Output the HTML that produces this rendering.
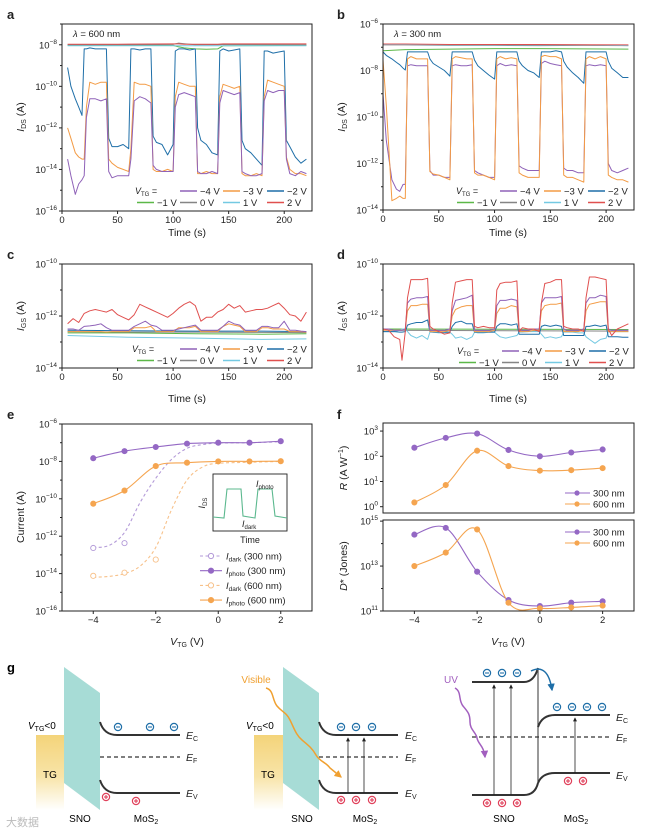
<!DOCTYPE html>
<html><head><meta charset="utf-8"><style>
html,body{margin:0;padding:0;background:#fff;}
svg{display:block;font-family:"Liberation Sans","Noto Sans CJK SC",sans-serif;}
</style></head><body>
<svg id="fig" xmlns="http://www.w3.org/2000/svg" width="664" height="833" viewBox="0 0 664 833">
<defs>
<linearGradient id="tgGrad" x1="0" y1="0" x2="0" y2="1"><stop offset="0" stop-color="#f4d47a"/><stop offset="0.55" stop-color="#f8e4a8"/><stop offset="1" stop-color="#ffffff"/></linearGradient>
<marker id="arrK" viewBox="0 0 6 6" refX="5" refY="3" markerWidth="5" markerHeight="5" orient="auto"><path d="M0,0 L6,3 L0,6 z" fill="#222"/></marker>
<marker id="arrO" viewBox="0 0 6 6" refX="5" refY="3" markerWidth="5" markerHeight="5" orient="auto"><path d="M0,0 L6,3 L0,6 z" fill="#f0a030"/></marker>
<marker id="arrP" viewBox="0 0 6 6" refX="5" refY="3" markerWidth="5" markerHeight="5" orient="auto"><path d="M0,0 L6,3 L0,6 z" fill="#a25fbf"/></marker>
<marker id="arrB" viewBox="0 0 6 6" refX="5" refY="3" markerWidth="5" markerHeight="5" orient="auto"><path d="M0,0 L6,3 L0,6 z" fill="#1f6fa8"/></marker>
</defs>
<g id="charts"></g>
<g id="schem">
  <text x="7" y="672" font-size="13" font-weight="bold">g</text>
  <!-- left diagram -->
  <rect x="36" y="735" width="28" height="75" fill="url(#tgGrad)"/>
  <text x="50" y="778" font-size="10" text-anchor="middle">TG</text>
  <polygon points="64,667 100,693 100,810 64,783" fill="#a7dcd6"/>
  <text x="28" y="729" font-size="10"><tspan font-style="italic">V</tspan><tspan font-size="7" dy="2">TG</tspan><tspan dy="-2">&lt;0</tspan></text>
  <path d="M100,722 Q104,735 117,735 L180,735" fill="none" stroke="#333" stroke-width="2"/>
  <line x1="100" y1="757" x2="180" y2="757" stroke="#333" stroke-width="1.2" stroke-dasharray="4,3"/>
  <path d="M100,780 Q104,793 117,793 L180,793" fill="none" stroke="#333" stroke-width="2"/>
  <text x="80" y="822" font-size="10" text-anchor="middle">SNO</text>
  <text x="146" y="822" font-size="10" text-anchor="middle">MoS<tspan font-size="7" dy="2">2</tspan></text>
  <!-- middle diagram -->
  <rect x="254" y="735" width="29" height="75" fill="url(#tgGrad)"/>
  <text x="268" y="778" font-size="10" text-anchor="middle">TG</text>
  <polygon points="283,667 319,693 319,810 283,783" fill="#a7dcd6"/>
  <text x="246" y="729" font-size="10"><tspan font-style="italic">V</tspan><tspan font-size="7" dy="2">TG</tspan><tspan dy="-2">&lt;0</tspan></text>
  <path d="M319,722 Q323,735 336,735 L398,735" fill="none" stroke="#333" stroke-width="2"/>
  <line x1="319" y1="757" x2="398" y2="757" stroke="#333" stroke-width="1.2" stroke-dasharray="4,3"/>
  <path d="M319,780 Q323,793 336,793 L398,793" fill="none" stroke="#333" stroke-width="2"/>
  <line x1="348" y1="793" x2="348" y2="738" stroke="#222" stroke-width="0.8" marker-end="url(#arrK)"/>
  <line x1="364" y1="793" x2="364" y2="738" stroke="#222" stroke-width="0.8" marker-end="url(#arrK)"/>
  <text x="256" y="683" font-size="10" fill="#f0a030" text-anchor="middle">Visible</text>
  <path d="M266,688 C274,690 272,700 277,706 S286,712 290,720 S296,735 302,740 S312,748 316,755 S326,762 330,768 L341,777" fill="none" stroke="#f0a030" stroke-width="1.5" marker-end="url(#arrO)"/>
  <text x="302" y="822" font-size="10" text-anchor="middle">SNO</text>
  <text x="365" y="822" font-size="10" text-anchor="middle">MoS<tspan font-size="7" dy="2">2</tspan></text>
  <!-- right diagram -->
  <path d="M472,682 L524,682 Q534,682 538,668" fill="none" stroke="#333" stroke-width="2"/>
  <path d="M472,795 L524,795 Q535,795 538,783" fill="none" stroke="#333" stroke-width="2"/>
  <line x1="538" y1="668" x2="538" y2="783" stroke="#555" stroke-width="1.2"/>
  <path d="M538,727 Q542,715 555,715 L610,715" fill="none" stroke="#333" stroke-width="2"/>
  <path d="M538,783 Q542,773 555,773 L610,773" fill="none" stroke="#333" stroke-width="2"/>
  <line x1="472" y1="737" x2="610" y2="737" stroke="#333" stroke-width="1.2" stroke-dasharray="4,3"/>
  <line x1="494" y1="795" x2="494" y2="685" stroke="#222" stroke-width="0.8" marker-end="url(#arrK)"/>
  <line x1="511" y1="795" x2="511" y2="685" stroke="#222" stroke-width="0.8" marker-end="url(#arrK)"/>
  <line x1="575" y1="773" x2="575" y2="718" stroke="#222" stroke-width="0.8" marker-end="url(#arrK)"/>
  <path d="M531,671 Q548,663 552,690" fill="none" stroke="#1f6fa8" stroke-width="1.5" marker-end="url(#arrB)"/>
  <text x="451" y="683" font-size="10" fill="#a25fbf" text-anchor="middle">UV</text>
  <path d="M455,688 C462,692 458,700 463,706 S470,714 470,722 S476,732 477,738 S484,746 485,757" fill="none" stroke="#a25fbf" stroke-width="1.5" marker-end="url(#arrP)"/>
  <text x="504" y="822" font-size="10" text-anchor="middle">SNO</text>
  <text x="576" y="822" font-size="10" text-anchor="middle">MoS<tspan font-size="7" dy="2">2</tspan></text>
  <text x="6" y="826" font-size="11" fill="#bbb">大数据</text>
</g>
</svg>
<script>
// ===== data: panel a (lambda=600nm), log10(I_DS)
const tA = [5,8,12,15,18,20,22,25,30,35,40,42,45,50,55,60,62,65,70,75,80,82,85,90,95,100,102,105,110,115,120,122,125,130,135,140,142,145,150,155,160,162,165,170,175,180,182,185,190,195,200,202,205,210,215,220];
const aM2 = [-9.1,-10,-10.6,-11,-11.4,-8.2,-8.2,-8.15,-8.2,-8.2,-8.2,-12.5,-12.9,-12.9,-12.8,-13.0,-8.2,-8.2,-8.25,-8.2,-8.2,-12.4,-12.7,-12.8,-13.3,-12.8,-8.3,-8.2,-8.2,-8.25,-8.2,-12.0,-12.6,-12.8,-13.2,-13.3,-8.3,-8.2,-8.3,-8.25,-8.2,-12.6,-13.0,-13.2,-13.5,-13.8,-8.3,-8.3,-8.4,-8.35,-8.3,-12.6,-12.9,-13.4,-13.7,-13.5];
const aM3 = [-12,-12.5,-13.2,-13.4,-13.5,-13.5,-11,-9.8,-9.9,-9.8,-9.8,-13.5,-13.7,-13.9,-14,-14.1,-13,-9.8,-9.9,-9.9,-10,-14,-14.1,-14.1,-14,-14.1,-10.5,-9.8,-9.9,-10,-10,-14.2,-14.2,-14.1,-14.2,-14.2,-10.5,-9.9,-10,-10.1,-10,-14.2,-14.3,-14.3,-14.2,-14.3,-10.5,-9.7,-9.8,-9.9,-10,-13.4,-14,-14.2,-14.2,-14.3];
const aM4 = [-13.5,-14.3,-15.2,-14.7,-14.5,-14.3,-11.5,-10.6,-10.6,-10.7,-10.6,-14.1,-14.4,-14.3,-14.3,-14.3,-13.5,-10.7,-10.5,-10.6,-10.8,-13.8,-14,-14.1,-14.1,-14.1,-11,-10.4,-10.3,-10.4,-10.5,-14.1,-14.2,-14.2,-14.1,-14.2,-10.8,-10.2,-10.3,-10.4,-10.3,-14.1,-14.2,-14.3,-14.3,-14.2,-10.7,-10.2,-10.3,-10.2,-10.2,-13.5,-14.2,-14.3,-14.1,-14.2];
const tAf = [5,50,100,105,110,120,130,140,145,220];
const aM1 = [-8.02,-8.03,-8.03,-8.1,-8.15,-8.2,-8.22,-8.2,-8.05,-8.03];
const a0 = [-8,-8,-7.98,-7.92,-7.95,-8,-8,-8,-7.98,-8];
const aP1 = [-8.05,-8.05,-8.05,-8.05,-8.05,-8.05,-8.05,-8.05,-8.05,-8.05];
const aP2 = [-7.97,-7.97,-7.96,-7.96,-7.97,-7.97,-7.97,-7.97,-7.96,-7.96];
// ===== panel b (lambda=300nm)
const tB = [0,3,8,12,15,18,20,22,25,30,35,40,42,45,50,55,60,62,65,70,75,80,82,85,90,95,100,102,105,110,115,120,122,125,130,135,140,142,145,150,155,160,162,165,170,175,180,182,185,190,195,200,202,205,210,215,220];
const bM2 = [-7.2,-7.35,-7.5,-7.65,-7.75,-7.9,-7.98,-7.2,-7.2,-7.2,-7.2,-7.2,-7.5,-7.7,-7.85,-8.0,-8.24,-7.2,-7.2,-7.2,-7.2,-7.2,-7.55,-7.8,-8.0,-8.2,-8.37,-7.2,-7.2,-7.2,-7.2,-7.2,-7.6,-7.8,-8.0,-8.1,-8.3,-7.2,-7.2,-7.2,-7.15,-7.2,-7.6,-7.85,-8.1,-8.3,-8.55,-7.2,-7.2,-7.2,-7.2,-7.2,-7.6,-7.9,-8.1,-8.3,-8.3];
const bM3 = [-7.55,-9.5,-13.6,-13.5,-13.4,-13.5,-13.5,-7.5,-7.4,-7.5,-7.5,-7.5,-12.35,-12.45,-12.5,-12.6,-12.7,-7.5,-7.4,-7.45,-7.5,-7.5,-12.4,-12.5,-12.5,-12.6,-12.7,-7.5,-7.4,-7.5,-7.45,-7.5,-12.4,-12.5,-12.6,-12.6,-12.6,-7.4,-7.35,-7.4,-7.4,-7.5,-12.5,-12.6,-12.6,-12.7,-12.8,-7.5,-7.4,-7.5,-7.4,-7.5,-12.5,-12.6,-12.7,-12.7,-12.8];
const bM4 = [-9,-11,-12.7,-13.1,-13.2,-12.9,-12.9,-7.8,-7.75,-7.8,-7.8,-7.8,-12.3,-12.5,-12.5,-12.6,-12.6,-7.8,-7.75,-7.8,-7.8,-7.75,-12.3,-12.4,-12.5,-12.6,-12.6,-7.8,-7.7,-7.8,-7.75,-7.8,-12.1,-12.2,-12.3,-12.3,-12.3,-7.7,-7.6,-7.7,-7.75,-7.8,-12.2,-12.3,-12.3,-12.4,-12.4,-7.8,-7.75,-7.8,-7.75,-7.8,-12.0,-12.3,-12.4,-12.3,-12.2];
const tBf = [0,20,60,100,140,180,220];
const bM1 = [-7.15,-7.1,-7.08,-7.06,-7.06,-7.07,-7.08];
const b0 = [-6.9,-6.9,-6.92,-6.92,-6.93,-6.92,-6.93];
const bP1 = [-6.88,-6.88,-6.9,-6.9,-6.9,-6.9,-6.93];
const bP2 = [-6.86,-6.86,-6.88,-6.88,-6.88,-6.89,-6.9];
// ===== panel c (I_GS, 600nm)
const tC = [5,10,15,20,25,30,35,40,45,50,55,60,65,70,75,80,85,90,95,100,105,110,115,120,125,130,135,140,145,150,155,160,165,170,175,180,185,190,195,200,205,210,215,220];
const cP2 = [-12.3,-12.1,-12.25,-11.9,-11.8,-11.75,-11.8,-11.85,-11.75,-11.95,-12.05,-12.15,-11.95,-11.55,-11.65,-11.75,-11.85,-11.95,-12.05,-11.9,-11.7,-11.55,-11.45,-11.6,-12.2,-12.05,-12.05,-11.85,-11.75,-11.55,-11.7,-11.6,-11.85,-11.8,-11.75,-11.75,-11.7,-11.6,-11.5,-11.7,-11.95,-12.0,-12.2,-11.85];
const cM4 = [-12.5,-12.5,-12.55,-12.4,-12.38,-12.35,-12.3,-12.45,-12.55,-12.55,-12.55,-12.55,-12.4,-12.3,-12.2,-12.35,-12.4,-12.55,-12.55,-12.55,-12.5,-12.45,-12.4,-12.35,-12.55,-12.55,-12.55,-12.55,-12.4,-12.2,-12.3,-12.35,-12.55,-12.55,-12.55,-12.4,-12.4,-12.45,-12.45,-12.2,-12.55,-12.55,-12.58,-12.6];
const cM3 = [-12.6,-12.6,-12.6,-12.6,-12.6,-12.6,-12.6,-12.62,-12.6,-12.6,-12.6,-12.6,-12.45,-12.45,-12.45,-12.4,-12.6,-12.6,-12.6,-12.6,-12.45,-12.45,-12.45,-12.4,-12.6,-12.6,-12.6,-12.6,-12.4,-12.3,-12.35,-12.4,-12.6,-12.6,-12.6,-12.45,-12.45,-12.5,-12.5,-12.5,-12.6,-12.6,-12.6,-12.62];
const tCf = [5,60,120,180,220];
const cM2 = [-12.55,-12.57,-12.58,-12.58,-12.6];
const cM1 = [-12.65,-12.65,-12.68,-12.7,-12.68];
const c0 = [-12.6,-12.62,-12.62,-12.63,-12.64];
const cP1 = [-12.75,-12.82,-12.85,-12.9,-12.88];
// ===== panel d (I_GS, 300nm)
const tD = [0,5,10,15,17,20,22,25,30,35,40,42,45,50,55,60,62,65,70,75,80,82,85,90,95,100,102,105,110,115,120,122,125,130,135,140,142,145,150,155,160,162,165,170,175,180,182,185,190,195,200,202,205,210,215,220];
const dP2 = [-12.5,-12.55,-12.8,-12.9,-13.7,-12.6,-11.3,-10.6,-10.6,-10.6,-10.55,-12.4,-12.5,-12.6,-12.7,-12.65,-11.5,-10.7,-10.65,-10.6,-10.6,-12.4,-12.45,-12.4,-12.45,-12.45,-11.0,-10.75,-10.7,-10.7,-10.65,-12.6,-12.45,-12.5,-12.5,-12.6,-11.5,-10.75,-10.7,-10.6,-10.6,-12.4,-12.45,-12.5,-12.5,-12.6,-11.3,-10.5,-10.5,-10.55,-10.6,-12.5,-12.75,-12.5,-12.4,-12.3];
const dM4 = [-12.5,-12.5,-12.55,-12.55,-12.55,-12.5,-11.5,-11.35,-11.3,-11.3,-11.25,-12.55,-12.55,-12.55,-12.55,-12.5,-11.8,-11.4,-11.35,-11.3,-11.2,-12.55,-12.55,-12.55,-12.55,-12.5,-11.6,-11.4,-11.4,-11.35,-11.4,-12.5,-12.55,-12.55,-12.5,-12.5,-11.5,-11.3,-11.3,-11.3,-11.25,-12.5,-12.55,-12.55,-12.55,-12.5,-11.5,-11.3,-11.3,-11.2,-11.25,-12.5,-12.55,-12.55,-12.55,-12.55];
const dM3 = [-12.55,-12.55,-12.55,-12.55,-12.55,-12.5,-11.8,-11.6,-11.6,-11.55,-11.55,-12.6,-12.6,-12.6,-12.6,-12.55,-12.0,-11.75,-11.65,-11.6,-11.6,-12.6,-12.6,-12.6,-12.6,-12.55,-11.9,-11.7,-11.7,-11.6,-11.65,-12.6,-12.6,-12.6,-12.55,-12.55,-11.8,-11.6,-11.55,-11.55,-11.5,-12.6,-12.6,-12.6,-12.6,-12.55,-11.8,-11.55,-11.5,-11.45,-11.45,-12.6,-12.6,-12.6,-12.6,-12.6];
const dM2 = [-12.6,-12.6,-12.6,-12.62,-12.62,-12.6,-12.35,-12.3,-12.25,-12.25,-12.15,-12.6,-12.62,-12.62,-12.62,-12.62,-12.4,-12.25,-12.2,-12.3,-12.3,-12.62,-12.62,-12.62,-12.62,-12.62,-12.4,-12.3,-12.3,-12.35,-12.3,-12.7,-12.7,-12.7,-12.7,-12.7,-12.4,-12.35,-12.4,-12.35,-12.4,-12.75,-12.75,-12.75,-12.75,-12.75,-12.4,-12.4,-12.35,-12.4,-12.35,-12.8,-12.8,-12.8,-12.82,-12.82];
const dP1 = [-12.6,-12.6,-12.6,-12.55,-12.5,-12.5,-12.6,-12.75,-12.85,-12.75,-12.9,-12.62,-12.62,-12.65,-12.65,-12.62,-12.7,-12.85,-12.8,-12.9,-12.8,-12.62,-12.65,-12.65,-12.62,-12.62,-12.7,-12.8,-12.85,-12.8,-12.75,-12.62,-12.62,-12.6,-12.6,-12.6,-12.7,-12.85,-12.8,-12.85,-12.8,-12.62,-12.62,-12.62,-12.65,-12.65,-12.8,-12.9,-13.05,-12.9,-12.85,-12.6,-12.6,-12.6,-12.6,-12.6];
const tDf = [5,220];
const dM1 = [-12.5,-12.52];
const d0 = [-12.55,-12.58];
// ===== panel e (current vs V_TG)
const vPts = [-4,-3,-2,-1,0,1,2];
const ePhoto300 = [-7.83,-7.45,-7.23,-7.05,-7.0,-7.0,-6.92];
const ePhoto600 = [-10.26,-9.56,-8.25,-8.07,-8.0,-8.0,-7.99];
const vDark = [-4,-3,-2];
const eDark300 = [-12.63,-12.37];
const eDark600 = [-14.12,-13.95,-13.25];
const vFit = [-4,-3.5,-3,-2.5,-2,-1.5,-1,-0.5,0,1,2];
const eFit300 = [-12.6,-12.5,-11.8,-10.2,-8.9,-7.9,-7.3,-7.1,-7.02,-7.0,-6.95];
const eFit600 = [-14.2,-14.15,-14.0,-13.6,-12.6,-10.6,-9.0,-8.3,-8.1,-8.05,-8.0];
// ===== panel f
const fR300 = [2.34,2.73,2.9,2.25,2.0,2.15,2.27];
const fR600 = [0.17,0.86,2.22,1.61,1.43,1.45,1.53];
const fD300 = [14.4,14.7,12.75,11.49,11.22,11.37,11.43];
const fD600 = [13.0,13.6,14.63,11.37,11.12,11.16,11.24];
// tick labels
const timeTicks = [0,50,100,150,200];
const vTicks = [-4,-2,0,2];
const legendLabels = ['−4 V','−3 V','−2 V','−1 V','0 V','1 V','2 V'];

const C = {m4:'#8f62b8', m3:'#f39b45', m2:'#1f6fa8', m1:'#5cb848', z:'#858585', p1:'#74c9e2', p2:'#e0504f'};
const P300 = '#9468c4', P600 = '#f5a550';
const NS = 'http://www.w3.org/2000/svg';
const root = document.getElementById('charts');

function el(tag, attrs, parent) {
  const e = document.createElementNS(NS, tag);
  for (const k in attrs) e.setAttribute(k, attrs[k]);
  (parent || root).appendChild(e);
  return e;
}
function tx(x, y, html, opts, parent) {
  const e = el('text', Object.assign({x: x, y: y, 'font-size': 10, fill: '#222'}, opts || {}), parent);
  e.innerHTML = html;
  return e;
}
function panel(left, right, top, bottom, xmin, xmax, ymin, ymax) {
  return {left, right, top, bottom,
    X: v => left + (v - xmin) / (xmax - xmin) * (right - left),
    Y: v => bottom - (v - ymin) / (ymax - ymin) * (bottom - top)};
}
function frame(p, name) {
  const r = el('rect', {x: p.left, y: p.top, width: p.right - p.left, height: p.bottom - p.top, fill: 'none', stroke: '#222', 'stroke-width': 1});
  
  
}
function yTicksLog(p, lo, hi, labeled, name, step) {
  const g = el('g', {});
  
  
  for (let d = lo; d <= hi; d++) {
    const y = p.Y(d);
    const major = labeled.indexOf(d) >= 0;
    el('line', {x1: p.left - (major ? 3 : 2), x2: p.left, y1: y, y2: y, stroke: '#222', 'stroke-width': 1}, g);
    if (step) { for (let k = 2; k < 10; k++) { const yy = p.Y(d + Math.log10(k)); if (d < hi && yy > p.top) el('line', {x1: p.left, x2: p.left + 1.5, y1: yy, y2: yy, stroke: '#444', 'stroke-width': 0.5}, g); } }
    if (major) {
      const lab = String(d).replace('-', '−');
      const t = tx(p.left - 5, y + 3.5, '10<tspan font-size="6.5" dy="-4.5">' + lab + '</tspan>', {'text-anchor': 'end', 'font-size': 9.5}, g);
      
      
    }
  }
}
function xTicks(p, vals, fmt, name, yoff) {
  const g = el('g', {});
  
  
  vals.forEach(v => {
    const x = p.X(v);
    el('line', {x1: x, x2: x, y1: p.bottom, y2: p.bottom + 3, stroke: '#222', 'stroke-width': 1}, g);
    const t = tx(x, p.bottom + (yoff || 12), fmt(v), {'text-anchor': 'middle', 'font-size': 9.5}, g);
    
    
  });
}
function series(p, ts, vs, color, name, extra) {
  const d = ts.map((t, i) => (i ? 'L' : 'M') + p.X(t).toFixed(1) + ',' + p.Y(vs[i]).toFixed(1)).join('');
  const e = el('path', Object.assign({d: d, fill: 'none', stroke: color, 'stroke-width': 1, 'stroke-linejoin': 'round'}, extra || {}));
  
  
  return e;
}
function smooth(p, xs, vs, color, name, extra) {
  const pts = xs.map((x, i) => [p.X(x), p.Y(vs[i])]);
  let d = 'M' + pts[0][0].toFixed(1) + ',' + pts[0][1].toFixed(1);
  for (let i = 0; i < pts.length - 1; i++) {
    const p0 = pts[Math.max(0, i - 1)], p1 = pts[i], p2 = pts[i + 1], p3 = pts[Math.min(pts.length - 1, i + 2)];
    const c1 = [p1[0] + (p2[0] - p0[0]) / 6, p1[1] + (p2[1] - p0[1]) / 6];
    const c2 = [p2[0] - (p3[0] - p1[0]) / 6, p2[1] - (p3[1] - p1[1]) / 6];
    d += 'C' + c1.map(v => v.toFixed(1)) + ' ' + c2.map(v => v.toFixed(1)) + ' ' + p2[0].toFixed(1) + ',' + p2[1].toFixed(1);
  }
  const e = el('path', Object.assign({d: d, fill: 'none', stroke: color, 'stroke-width': 1.1}, extra || {}));
  
  
}
function dots(p, xs, vs, color, name, open) {
  xs.forEach((x, i) => {
    if (vs[i] === undefined) return;
    const c = el('circle', {cx: p.X(x), cy: p.Y(vs[i]), r: 2.6, fill: open ? '#fff' : color, stroke: color, 'stroke-width': 0.9});
    
    
  });
}
function vtgLegend(x0, y0, xs1, xs2, dy, name) {
  const g = el('g', {});
  
  
  tx(x0, y0 + 3, '<tspan font-style="italic">V</tspan><tspan font-size="6" dy="2">TG</tspan><tspan dy="-2"> =</tspan>', {'font-size': 9}, g);
  const cols = [C.m4, C.m3, C.m2, C.m1, C.z, C.p1, C.p2];
  for (let i = 0; i < 7; i++) {
    const row = i < 3 ? 0 : 1;
    const x = row === 0 ? xs1[i] : xs2[i - 3];
    const y = y0 + row * dy;
    const ln = el('line', {x1: x, x2: x + 17, y1: y, y2: y, stroke: cols[i], 'stroke-width': 1.5}, g);
    
    
    const t = tx(x + 20, y + 3.5, legendLabels[i], {'font-size': 9.5}, g);
    
    
  }
}
function label(x, y, s, name) {
  const t = tx(x, y, s, {'font-size': 13, 'font-weight': 'bold'});
  
  
}
function ytitle(x, y, html, name) {
  const t = tx(x, y, html, {'text-anchor': 'middle', 'font-size': 10.5, transform: 'rotate(-90 ' + x + ' ' + y + ')'});
  
  
}
function xtitle(x, y, html, name) {
  const t = tx(x, y, html, {'text-anchor': 'middle', 'font-size': 10.5});
  
  
}
const IDS = '<tspan font-style="italic">I</tspan><tspan font-size="7" dy="2">DS</tspan><tspan dy="-2"> (A)</tspan>';
const IGS = '<tspan font-style="italic">I</tspan><tspan font-size="7" dy="2">GS</tspan><tspan dy="-2"> (A)</tspan>';
const VTG = '<tspan font-style="italic">V</tspan><tspan font-size="7" dy="2">TG</tspan><tspan dy="-2"> (V)</tspan>';
const fmtN = v => String(v).replace('-', '−');

// ---- panel a
const pa = panel(62, 312, 24, 211, 0, 225, -16, -7);
label(7, 19, 'a', 'panel-label-a');
[[tAf, aM1, C.m1], [tAf, a0, C.z], [tAf, aP1, C.p1], [tAf, aP2, C.p2], [tA, aM2, C.m2], [tA, aM3, C.m3], [tA, aM4, C.m4]].forEach((s, i) => series(pa, s[0], s[1], s[2], 'a-series-' + i));
frame(pa, 'a');
yTicksLog(pa, -16, -7, [-8, -10, -12, -14, -16], 'a');
xTicks(pa, timeTicks, fmtN, 'a');
ytitle(24, 117, IDS, 'a-y-axis-title');
xtitle(187, 236, 'Time (s)', 'a-x-axis-title');
tx(73, 37, '<tspan font-style="italic">λ</tspan> = 600 nm', {'font-size': 9.5});
vtgLegend(135, 191, [180, 223, 267], [137, 180, 223, 267], 11.5, 'a-legend');

// ---- panel b
const pb = panel(383, 634, 24, 210, 0, 225, -14, -6);
label(337, 19, 'b', 'panel-label-b');
[[tBf, bM1, C.m1], [tBf, b0, C.z], [tBf, bP1, C.p1], [tBf, bP2, C.p2], [tB, bM2, C.m2], [tB, bM4, C.m4], [tB, bM3, C.m3]].forEach((s, i) => series(pb, s[0], s[1], s[2], 'b-series-' + i));
frame(pb, 'b');
yTicksLog(pb, -14, -6, [-6, -8, -10, -12, -14], 'b');
xTicks(pb, timeTicks, fmtN, 'b');
ytitle(345, 117, IDS, 'b-y-axis-title');
xtitle(508, 236, 'Time (s)', 'b-x-axis-title');
tx(394, 37, '<tspan font-style="italic">λ</tspan> = 300 nm', {'font-size': 9.5});
vtgLegend(456, 191, [500, 544, 588], [457, 500, 544, 588], 11.5, 'b-legend');

// ---- panel c
const pc = panel(62, 312, 264, 368, 0, 225, -14, -10);
label(7, 259, 'c', 'panel-label-c');
[[tCf, cP1, C.p1], [tCf, cM1, C.m1], [tCf, c0, C.z], [tCf, cM2, C.m2], [tC, cM3, C.m3], [tC, cM4, C.m4], [tC, cP2, C.p2]].forEach((s, i) => series(pc, s[0], s[1], s[2], 'c-series-' + i));
frame(pc, 'c');
yTicksLog(pc, -14, -10, [-10, -12, -14], 'c');
xTicks(pc, timeTicks, fmtN, 'c');
ytitle(24, 316, IGS, 'c-y-axis-title');
xtitle(187, 402, 'Time (s)', 'c-x-axis-title');
vtgLegend(132, 349, [180, 223, 267], [137, 180, 223, 267], 11.5, 'c-legend');

// ---- panel d
const pd = panel(383, 634, 264, 368, 0, 225, -14, -10);
label(337, 259, 'd', 'panel-label-d');
[[tDf, dM1, C.m1], [tDf, d0, C.z], [tD, dP1, C.p1], [tD, dM2, C.m2], [tD, dM3, C.m3], [tD, dM4, C.m4], [tD, dP2, C.p2]].forEach((s, i) => series(pd, s[0], s[1], s[2], 'd-series-' + i));
frame(pd, 'd');
yTicksLog(pd, -14, -10, [-10, -12, -14], 'd');
xTicks(pd, timeTicks, fmtN, 'd');
ytitle(345, 316, IGS, 'd-y-axis-title');
xtitle(508, 402, 'Time (s)', 'd-x-axis-title');
vtgLegend(457, 351, [502, 545, 589], [459, 502, 545, 589], 11.5, 'd-legend');

// ---- panel e
const pe = panel(62, 312, 424, 611, -5, 3, -16, -6);
label(7, 419, 'e', 'panel-label-e');
smooth(pe, vFit, eFit300, '#b39ad8', 'e-dark-300-fit', {'stroke-dasharray': '3,2.5'});
smooth(pe, vFit, eFit600, '#f7c18a', 'e-dark-600-fit', {'stroke-dasharray': '3,2.5'});
smooth(pe, vPts, ePhoto300, P300, 'e-photo-300-line');
smooth(pe, vPts, ePhoto600, P600, 'e-photo-600-line');
dots(pe, vDark, eDark300, '#b39ad8', 'e-dark-300-point', true);
dots(pe, vDark, eDark600, '#f7c18a', 'e-dark-600-point', true);
dots(pe, vPts, ePhoto300, P300, 'e-photo-300-point', false);
dots(pe, vPts, ePhoto600, P600, 'e-photo-600-point', false);
frame(pe, 'e');
yTicksLog(pe, -16, -6, [-6, -8, -10, -12, -14, -16], 'e');
xTicks(pe, vTicks, fmtN, 'e');
ytitle(24, 517, 'Current (A)', 'e-y-axis-title');
xtitle(187, 645, VTG, 'e-x-axis-title');
// inset
(function () {
  const g = el('g', {});
  
  
  el('rect', {x: 213, y: 474, width: 74, height: 57, fill: '#fff', stroke: '#222', 'stroke-width': 0.9}, g);
  el('path', {d: 'M213,517 L224,518 L227,489 L241,489 L243,516 L255,518 L258,489 L272,489 L275,516 L287,518', fill: 'none', stroke: '#5bb88e', 'stroke-width': 1.1}, g);
  tx(250, 543, 'Time', {'text-anchor': 'middle', 'font-size': 9}, g);
  tx(205, 503, '<tspan font-style="italic">I</tspan><tspan font-size="6" dy="2">DS</tspan>', {'text-anchor': 'middle', 'font-size': 9, transform: 'rotate(-90 205 503)'}, g);
  tx(256, 487, '<tspan font-style="italic">I</tspan><tspan font-size="6" dy="2">photo</tspan>', {'font-size': 9}, g);
  tx(242, 527, '<tspan font-style="italic">I</tspan><tspan font-size="6" dy="2">dark</tspan>', {'font-size': 9}, g);
})();
// legend e
(function () {
  const g = el('g', {});
  
  
  const items = [['#b39ad8', true, 'dark', '300 nm'], [P300, false, 'photo', '300 nm'], ['#f7c18a', true, 'dark', '600 nm'], [P600, false, 'photo', '600 nm']];
  items.forEach((it, i) => {
    const y = 556 + i * 14.7;
    const ln = el('line', {x1: 200, x2: 222, y1: y, y2: y, stroke: it[0], 'stroke-width': 1.1, 'stroke-dasharray': it[1] ? '3,2.5' : 'none'}, g);
    
    
    el('circle', {cx: 211, cy: y, r: 2.6, fill: it[1] ? '#fff' : it[0], stroke: it[0]}, g);
    const t = tx(226, y + 3.5, '<tspan font-style="italic">I</tspan><tspan font-size="6.5" dy="2">' + it[2] + '</tspan><tspan dy="-2"> (' + it[3] + ')</tspan>', {'font-size': 9.5}, g);
    
    
  });
})();

// ---- panel f
const pf1 = panel(383, 634, 423, 513, -5, 3, -0.25, 3.32);
const pf2 = panel(383, 634, 520, 611, -5, 3, 11, 15.05);
label(337, 419, 'f', 'panel-label-f');
smooth(pf1, vPts, fR300, P300, 'f-r-300-line');
smooth(pf1, vPts, fR600, P600, 'f-r-600-line');
dots(pf1, vPts, fR300, P300, 'f-r-300-point');
dots(pf1, vPts, fR600, P600, 'f-r-600-point');
smooth(pf2, vPts, fD300, P300, 'f-d-300-line');
smooth(pf2, vPts, fD600, P600, 'f-d-600-line');
dots(pf2, vPts, fD300, P300, 'f-d-300-point');
dots(pf2, vPts, fD600, P600, 'f-d-600-point');
frame(pf1, 'f-top');
frame(pf2, 'f-bottom');
yTicksLog(pf1, 0, 3, [0, 1, 2, 3], 'f-top');
yTicksLog(pf2, 11, 15, [11, 13, 15], 'f-bottom');
xTicks(pf2, vTicks, fmtN, 'f');
ytitle(347, 468, '<tspan font-style="italic">R</tspan> (A W<tspan font-size="7" dy="-4">−1</tspan><tspan dy="4">)</tspan>', 'f-top-y-axis-title');
ytitle(347, 566, '<tspan font-style="italic">D</tspan>* (Jones)', 'f-bottom-y-axis-title');
xtitle(508, 645, VTG, 'f-x-axis-title');
[[pf1, 493], [pf2, 532]].forEach((q, k) => {
  [[P300, '300 nm'], [P600, '600 nm']].forEach((it, i) => {
    const y = q[1] + i * 11;
    const ln = el('line', {x1: 565, x2: 590, y1: y, y2: y, stroke: it[0], 'stroke-width': 1.1});
    
    
    el('circle', {cx: 577, cy: y, r: 2.6, fill: it[0]});
    const t = tx(593, y + 3.5, it[1], {'font-size': 9.5});
    
    
  });
});

// ---- band diagram symbols
const sch = document.getElementById('schem');
function carrier(x, y, col, plus) {
  const g = el('g', {}, sch);
  
  
  el('circle', {cx: x, cy: y, r: 3.6, fill: '#fff', stroke: col, 'stroke-width': 1.2}, g);
  el('line', {x1: x - 2, x2: x + 2, y1: y, y2: y, stroke: col, 'stroke-width': 1.1}, g);
  if (plus) el('line', {x1: x, x2: x, y1: y - 2, y2: y + 2, stroke: col, 'stroke-width': 1.1}, g);
}
const BL = '#1f6fa8', RD = '#e0405a';
[[118,727],[150,727],[174,727],[341,727],[356,727],[372,727],[487,673],[502,673],[517,673],[557,707],[572,707],[587,707],[602,707]].forEach(p => carrier(p[0], p[1], BL, false));
[[106,797],[136,801],[341,800],[356,800],[372,800],[487,803],[502,803],[517,803],[568,781],[583,781]].forEach(p => carrier(p[0], p[1], RD, true));
function elabel(x, y, sub) {
  const t = tx(x, y, '<tspan font-style="italic">E</tspan><tspan font-size="7" dy="2">' + sub + '</tspan>', {'font-size': 10.5}, sch);
  
  
}
[[186,739,'C'],[186,761,'F'],[186,797,'V'],[405,739,'C'],[405,761,'F'],[405,797,'V'],[616,721,'C'],[616,741,'F'],[616,779,'V']].forEach(a => elabel(a[0], a[1], a[2]));
</script>
</body></html>
